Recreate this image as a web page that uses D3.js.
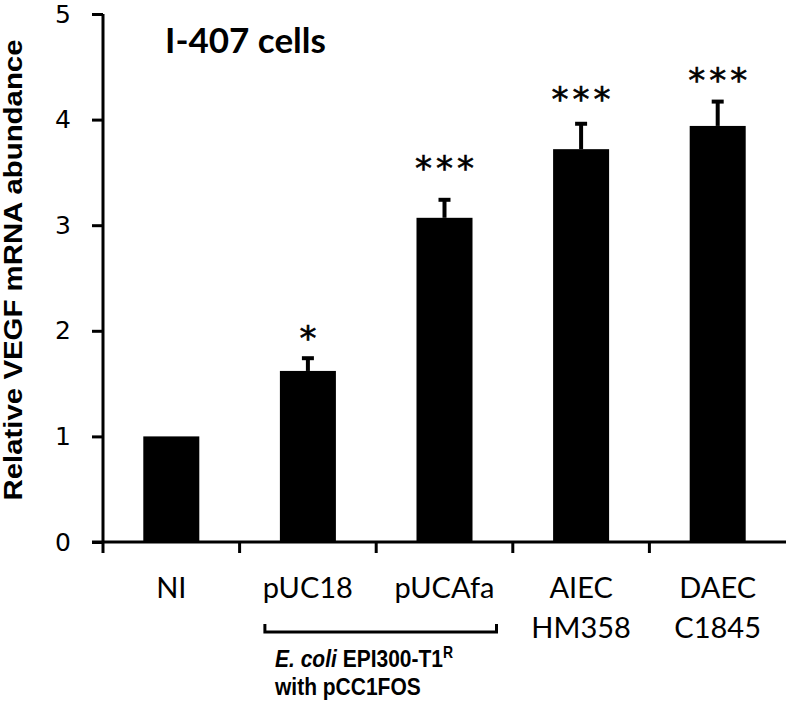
<!DOCTYPE html>
<html>
<head>
<meta charset="utf-8">
<script src="https://cdn.jsdelivr.net/npm/d3@7.9.0/dist/d3.min.js"></script>
<style>
  body { margin: 0; background: #fff; }
  svg { display: block; }
</style>
</head>
<body>
<div id="chart"></div>
<script>
const categories = ['NI', 'pUC18', 'pUCAfa', 'AIEC', 'DAEC'];
const subLabels = ['', '', '', 'HM358', 'C1845'];
const values = [1.0, 1.62, 3.07, 3.72, 3.94];
const errors = [0, 0.13, 0.18, 0.25, 0.24];
const stars = ['', '*', '***', '***', '***'];
// vertical centre of the significance marks, in data units
const starLevels = [0, 2.01, 3.62, 4.27, 4.45];
const yTicks = [0, 1, 2, 3, 4, 5];

const width = 788;
const height = 703;
const margin = { top: 14, right: 2, bottom: 161, left: 103 };

const svg = d3.select('#chart')
  .append('svg')
  .attr('width', width)
  .attr('height', height);

const xScale = d3.scaleBand()
  .domain(categories)
  .range([margin.left, width - margin.right])
  .paddingInner(0.59)
  .paddingOuter(0.295);

const yScale = d3.scaleLinear()
  .domain([0, 5])
  .range([height - margin.bottom, margin.top]);

const data = categories.map((c, i) => ({
  cat: c, sub: subLabels[i], value: values[i], err: errors[i],
  star: stars[i], starLevel: starLevels[i]
}));

const cx = d => xScale(d.cat) + xScale.bandwidth() / 2;

// bars
svg.append('g')
  .selectAll('rect')
  .data(data)
  .join('rect')
  .attr('x', d => xScale(d.cat))
  .attr('y', d => yScale(d.value))
  .attr('width', xScale.bandwidth())
  .attr('height', d => yScale(0) - yScale(d.value))
  .attr('fill', '#000');

// error bars (upper only)
const eb = svg.append('g')
  .selectAll('g')
  .data(data.filter(d => d.err > 0))
  .join('g')
  .attr('stroke', '#000');

eb.append('line')
  .attr('x1', cx).attr('x2', cx)
  .attr('y1', d => yScale(d.value))
  .attr('y2', d => yScale(d.value + d.err))
  .attr('stroke-width', 4);

eb.append('line')
  .attr('x1', d => cx(d) - 6)
  .attr('x2', d => cx(d) + 6)
  .attr('y1', d => yScale(d.value + d.err) + 1)
  .attr('y2', d => yScale(d.value + d.err) + 1)
  .attr('stroke-width', 4);

// significance stars
svg.append('g')
  .selectAll('text')
  .data(data.filter(d => d.star))
  .join('text')
  .attr('x', d => cx(d) + 2)
  .attr('y', d => yScale(d.starLevel) + 20)
  .attr('text-anchor', 'middle')
  .attr('font-family', 'DejaVu Sans, sans-serif')
  .attr('font-size', 34)
  .attr('letter-spacing', 4)
  .attr('stroke', '#000')
  .attr('stroke-width', 0.6)
  .text(d => d.star);

// y axis
const yAxis = svg.append('g')
  .attr('transform', `translate(${margin.left},0)`)
  .call(d3.axisLeft(yScale).tickValues(yTicks).tickSize(11).tickPadding(21).tickFormat(d3.format('d')));
yAxis.select('.domain').attr('stroke', '#000').attr('stroke-width', 3)
  .attr('d', `M0,${yScale(5)}V${yScale(0)}`);
yAxis.selectAll('.tick line').attr('stroke', '#000').attr('stroke-width', 3);
yAxis.selectAll('.tick text')
  .attr('font-family', 'DejaVu Sans, sans-serif')
  .attr('font-size', 25)
  .attr('fill', '#000');

// x axis with tick marks at category boundaries
const xAxisG = svg.append('g')
  .attr('transform', `translate(0,${yScale(0)})`);
xAxisG.append('line')
  .attr('x1', margin.left - 11)
  .attr('x2', width - margin.right)
  .attr('stroke', '#000')
  .attr('stroke-width', 3);
const step = xScale.step();
const bounds = d3.range(categories.length).map(i => margin.left + i * step);
xAxisG.selectAll('.xt')
  .data(bounds)
  .join('line')
  .attr('class', 'xt')
  .attr('x1', d => d).attr('x2', d => d)
  .attr('y1', 0).attr('y2', 11)
  .attr('stroke', '#000')
  .attr('stroke-width', 3);

// category labels
const labels = svg.append('g')
  .attr('font-family', 'Lato, "Open Sans", sans-serif')
  .attr('font-size', 29)
  .attr('text-anchor', 'middle')
  .attr('fill', '#000');
labels.selectAll('.l1')
  .data(data)
  .join('text')
  .attr('class', 'l1')
  .attr('x', cx)
  .attr('y', 598)
  .text(d => d.cat);
labels.selectAll('.l2')
  .data(data.filter(d => d.sub))
  .join('text')
  .attr('class', 'l2')
  .attr('x', cx)
  .attr('y', 638)
  .text(d => d.sub);

// bracket under pUC18 / pUCAfa
const bx0 = xScale('pUC18') - 15;
const bx1 = xScale('pUCAfa') + xScale.bandwidth() + 24;
svg.append('path')
  .attr('d', `M${bx0},624V632H${bx1}V624`)
  .attr('fill', 'none')
  .attr('stroke', '#000')
  .attr('stroke-width', 3);

const noteStyle = sel => sel
  .attr('font-family', 'Liberation Sans, Arial, sans-serif')
  .attr('font-weight', 'bold')
  .attr('font-size', 21)
  .attr('fill', '#000');

const note1 = svg.append('text')
  .attr('transform', 'translate(275,667) scale(1,1.12)')
  .call(noteStyle);
note1.append('tspan').attr('font-style', 'italic').text('E. coli');
note1.append('tspan').text(' EPI300-T1');
note1.append('tspan').attr('font-size', 14).attr('dy', -8).text('R');

svg.append('text')
  .attr('transform', 'translate(275,695) scale(1,1.12)')
  .call(noteStyle)
  .text('with pCC1FOS');

// title
svg.append('text')
  .attr('x', 165)
  .attr('y', 53)
  .attr('font-family', 'Lato, "Open Sans", sans-serif')
  .attr('font-weight', 'bold')
  .attr('font-size', 35)
  .attr('fill', '#000')
  .text('I-407 cells');

// y axis label
svg.append('text')
  .attr('transform', `translate(22,270) rotate(-90)`)
  .attr('text-anchor', 'middle')
  .attr('font-family', 'Liberation Sans, Arial, sans-serif')
  .attr('font-weight', 'bold')
  .attr('font-size', 25)
  .attr('textLength', 461)
  .attr('lengthAdjust', 'spacingAndGlyphs')
  .attr('fill', '#000')
  .text('Relative VEGF mRNA abundance');
</script>
</body>
</html>
